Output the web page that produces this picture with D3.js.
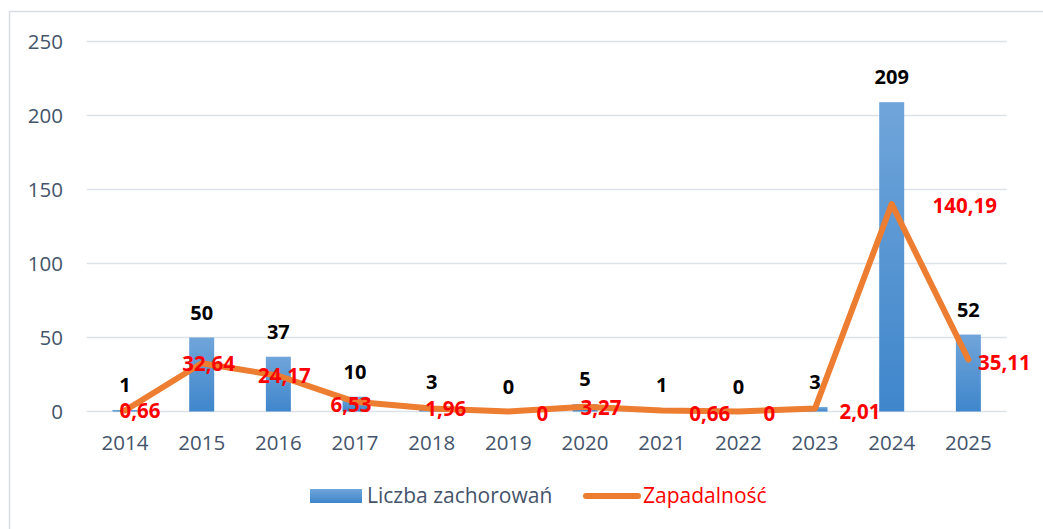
<!DOCTYPE html>
<meta charset="utf-8">
<script src="https://d3js.org/d3.v7.min.js"></script>
<html>
<head>
<style>
body { margin: 0; background: #fff; }
svg text { font-family: "Open Sans", sans-serif; }
</style>
</head>
<body>
<svg id="chart" width="1043" height="529"></svg>
<script>

// Data
var years = ["2014","2015","2016","2017","2018","2019","2020","2021","2022","2023","2024","2025"];
var cases = [1, 50, 37, 10, 3, 0, 5, 1, 0, 3, 209, 52];
var incidence = [0.66, 32.64, 24.17, 6.53, 1.96, 0, 3.27, 0.66, 0, 2.01, 140.19, 35.11];
var yTicks = [0, 50, 100, 150, 200, 250];

// label nudges for the red incidence labels (layout, px)
var redNudge = [[15,0],[7,0],[6,0],[-4,3],[14,0],[34,2],[16,1],[48,3],[31,2],[45,3],[73,2],[36,3]];

var svg = d3.select("#chart");

// outer chart frame
svg.append("rect")
  .attr("x", 9.5).attr("y", 11.5)
  .attr("width", 1060).attr("height", 540)
  .attr("fill", "none").attr("stroke", "#d9dde3").attr("stroke-width", 1.5);

var x = d3.scaleBand().domain(years).range([86.7, 1006.7]).paddingInner(0).paddingOuter(0);
var y = d3.scaleLinear().domain([0, 250]).range([411.5, 41.5]);

var fmt = function(v){ return String(v).replace(".", ","); };

// gridlines
svg.append("g").selectAll("line")
  .data(yTicks).enter().append("line")
  .attr("x1", 86.7).attr("x2", 1006.7)
  .attr("y1", function(d){ return y(d); }).attr("y2", function(d){ return y(d); })
  .attr("stroke", "#dde2ea").attr("stroke-width", 1.5);

// y axis labels
var yAxis = svg.append("g")
  .attr("transform", "translate(63,0)")
  .call(d3.axisLeft(y).tickValues(yTicks).tickSize(0).tickPadding(0));
yAxis.select(".domain").remove();
yAxis.selectAll("text")
  .attr("font-family", "Open Sans").attr("font-size", 20.5).attr("fill", "#44546a");

// x axis labels
var xAxis = svg.append("g")
  .attr("transform", "translate(0,435.5)")
  .call(d3.axisBottom(x).tickSize(0).tickPadding(0));
xAxis.select(".domain").remove();
xAxis.selectAll("text")
  .attr("font-family", "Open Sans").attr("font-size", 20.5).attr("fill", "#44546a");

// bar gradient
var defs = svg.append("defs");
var grad = defs.append("linearGradient").attr("id", "barGrad")
  .attr("x1", 0).attr("y1", 0).attr("x2", 0).attr("y2", 1);
grad.append("stop").attr("offset", "0%").attr("stop-color", "#70a5da");
grad.append("stop").attr("offset", "100%").attr("stop-color", "#3f86cb");

var bw = 25;
svg.append("g").selectAll("rect")
  .data(cases).enter().append("rect")
  .attr("x", function(d, i){ return x(years[i]) + x.bandwidth()/2 - bw/2; })
  .attr("y", function(d){ return y(d); })
  .attr("width", bw)
  .attr("height", function(d){ return y(0) - y(d); })
  .attr("fill", "url(#barGrad)");

// incidence line
var line = d3.line()
  .x(function(d, i){ return x(years[i]) + x.bandwidth()/2; })
  .y(function(d){ return y(d); });
svg.append("path")
  .datum(incidence)
  .attr("d", line)
  .attr("fill", "none")
  .attr("stroke", "#ed7d31")
  .attr("stroke-width", 6)
  .attr("stroke-linejoin", "round")
  .attr("stroke-linecap", "round");

// case labels
svg.append("g").selectAll("text")
  .data(cases).enter().append("text")
  .attr("x", function(d, i){ return x(years[i]) + x.bandwidth()/2; })
  .attr("y", function(d){ return y(d) - 18; })
  .attr("text-anchor", "middle")
  .attr("font-size", 20).attr("font-weight", "bold").attr("fill", "#000")
  .text(function(d){ return d; });

// incidence labels
svg.append("g").selectAll("text")
  .data(incidence).enter().append("text")
  .attr("x", function(d, i){ return x(years[i]) + x.bandwidth()/2 + redNudge[i][0]; })
  .attr("y", function(d, i){ return y(d) + redNudge[i][1]; })
  .attr("dy", "0.36em")
  .attr("text-anchor", "middle")
  .attr("font-size", 20.5).attr("font-weight", "bold").attr("fill", "#ff0000")
  .text(function(d){ return fmt(d); });

// legend
var lg = svg.append("g");
lg.append("rect").attr("x", 310).attr("y", 489).attr("width", 52).attr("height", 14)
  .attr("fill", "url(#barGrad)");
lg.append("text").attr("x", 367).attr("y", 503)
  .attr("font-size", 21).attr("fill", "#44546a").text("Liczba zachorowań");
lg.append("line").attr("x1", 586).attr("x2", 638).attr("y1", 496).attr("y2", 496)
  .attr("stroke", "#ed7d31").attr("stroke-width", 6).attr("stroke-linecap", "round");
lg.append("text").attr("x", 643).attr("y", 503)
  .attr("font-size", 21).attr("fill", "#ff0000").text("Zapadalność");

</script>
</body>
</html>
